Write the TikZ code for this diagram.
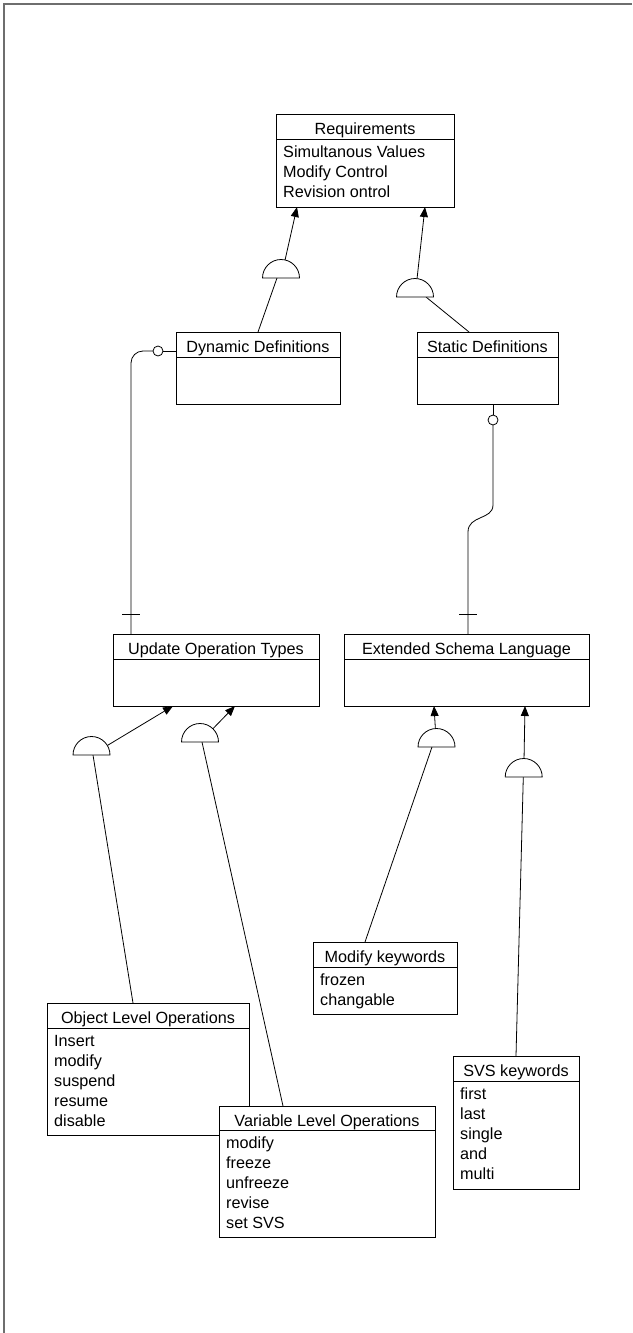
\documentclass[tikz,border=0pt]{standalone}
\usepackage{fontspec}
\setmainfont{Liberation Sans}
\usetikzlibrary{arrows.meta,calc}
\definecolor{framegray}{RGB}{110,110,110}
\tikzset{
  clsframe/.style={draw, line width=0.9pt, fill=white, inner sep=0pt, outer sep=0pt},
  hdrline/.style={line width=0.9pt},
  txt/.style={inner sep=0pt, font=\fontsize{16.2}{19}\selectfont},
  conn/.style={line width=0.8pt},
  arr/.style={conn, -{Triangle[length=10pt,width=8pt]}},
  halfc/.style={conn, fill=white},
  frameline/.style={line width=1.6pt, draw=framegray}
}
\newcommand{\umlclass}[8]{%
  \node[clsframe, anchor=north west, minimum width={#4-#2}, minimum height={#5-#3}] (#1) at (#2,#3) {};
  \draw[hdrline] (#2,#6) -- (#4,#6);
  \node[txt, anchor=base] (#1-t) at ({(#2+#4)/2},{(#3+#6)/2+8}) {#7};
  \foreach \s [count=\i] in {#8} {\node[txt, anchor=base west] (#1-\i) at ({#2+7},{#6+18.5+20*(\i-1)}) {\s};}
}
\newcommand{\halfdisc}[1]{%
  \draw[halfc] ($(#1)+(-18.5,0)$) arc[start angle=180, end angle=0, radius=18.5pt] -- cycle;
}
\begin{document}
\begin{tikzpicture}[x=1pt,y=-1pt]
\useasboundingbox (0,0) rectangle (632,1333);
\draw[frameline] (4,1333) -- (4,4) -- (632,4);

\umlclass{req}{276}{114}{454}{207}{139}{Requirements}{Simultanous Values,Modify Control,Revision ontrol}
\umlclass{dyn}{176}{332}{340}{404}{357}{Dynamic Definitions}{}
\umlclass{stat}{417}{332}{558}{404}{357}{Static Definitions}{}
\umlclass{upd}{113}{634}{319}{706}{659}{Update Operation Types}{}
\umlclass{esl}{344}{634}{589}{706}{659}{Extended Schema Language}{}
\umlclass{modk}{313}{942}{457}{1014}{967}{Modify keywords}{frozen,changable}
\umlclass{svs}{453}{1056}{579}{1189}{1081}{SVS keywords}{first,last,single,and,multi}
\umlclass{obj}{47}{1003}{249}{1135}{1028}{Object Level Operations}{Insert,modify,suspend,resume,disable}
\umlclass{var}{219}{1106}{435}{1237}{1130}{Variable Level Operations}{modify,freeze,unfreeze,revise,set SVS}

% semicircle centres
\coordinate (s1) at (281,278);
\coordinate (s2) at (415,297);
\coordinate (s3) at (91.5,755);
\coordinate (s4) at (200,742);
\coordinate (s5) at (436.5,747);
\coordinate (s6) at (523.7,777);
% arrow tips
\coordinate (t1) at ($(req.south west)+(21,0)$);
\coordinate (t2) at ($(req.south west)+(149,0)$);
\coordinate (t3) at ($(upd.south west)+(60,0)$);
\coordinate (t4) at ($(upd.south west)+(122,0)$);
\coordinate (t5) at ($(esl.south west)+(90,0)$);
\coordinate (t6) at ($(esl.south west)+(181,0)$);

% lower segments
\draw[conn] (dyn.north) -- ($(s1)+(-4,0)$);
\draw[conn] ($(stat.north west)+(52,0)$) -- ($(s2)+(11,0)$);
\draw[conn] ($(obj.north west)+(86,0)$) -- ($(s3)+(1.5,0)$);
\draw[conn] ($(var.north west)+(64,0)$) -- ($(s4)+(2,0)$);
\draw[conn] ($(modk.north west)+(52,0)$) -- ($(s5)+(-4.5,0)$);
\draw[conn] ($(svs.north west)+(63,0)$) -- ($(s6)+(-0.4,0)$);
% arrows
\draw[arr] ($(s1)!18.5pt!(t1)$) -- (t1);
\draw[arr] ($(s2)!18.5pt!(t2)$) -- (t2);
\draw[arr] ($(s3)!18.5pt!(t3)$) -- (t3);
\draw[arr] ($(s4)!18.5pt!(t4)$) -- (t4);
\draw[arr] ($(s5)!18.5pt!(t5)$) -- (t5);
\draw[arr] ($(s6)!18.5pt!(t6)$) -- (t6);
% half discs
\halfdisc{s1}
\halfdisc{s2}
\halfdisc{s3}
\halfdisc{s4}
\halfdisc{s5}
\halfdisc{s6}

% Dynamic Definitions -- Update Operation Types
\draw[conn, rounded corners=12pt] ($(upd.north west)+(18,0)$) -- (131,351) -- (153,351);
\draw[conn, fill=white] (158,351) circle (5pt);
\draw[conn] (163,351) -- (dyn.west |- 0,351);
\draw[conn] ($(upd.north west)+(9,-20)$) -- ++(18,0);

% Static Definitions -- Extended Schema Language
\draw[conn] ($(stat.south west)+(76,0)$) -- ++(0,11);
\draw[conn, fill=white] ($(stat.south west)+(76,16)$) circle (5pt);
\draw[conn] ($(stat.south west)+(76,21)$) -- (493,505) .. controls (493,520) and (468,515) .. (468,532) -- ($(esl.north west)+(124,0)$);
\draw[conn] ($(esl.north west)+(115,-20)$) -- ++(18,0);
\end{tikzpicture}
\end{document}
